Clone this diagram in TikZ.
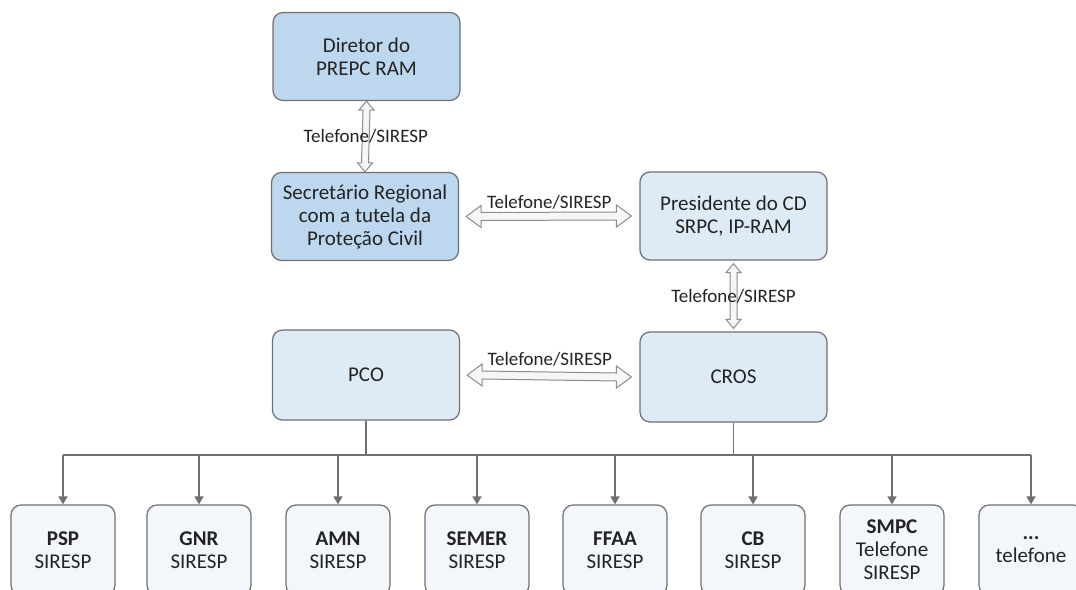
\documentclass[tikz,border=0pt]{standalone}
\usepackage{fontspec}
\setmainfont{Carlito}
\usepackage{xcolor}
\usetikzlibrary{arrows.meta}

\definecolor{boxline}{RGB}{112,112,112}
\definecolor{darkfill}{RGB}{189,215,238}
\definecolor{lightfill}{RGB}{222,235,247}
\definecolor{palefill}{RGB}{243,247,252}
\definecolor{txt}{RGB}{35,35,35}
\definecolor{arrline}{RGB}{140,140,140}
\definecolor{arrfill}{RGB}{246,246,246}

% hollow double arrow, top node to bottom node
\newcommand{\vtel}[3]{%
  \draw[hollow] ([yshift=-#3pt]#1.south) -- ([shift={(7.5,9+#3*2)}]#1.south)
    -- ([shift={(3.5,9+#3*2)}]#1.south) -- ([shift={(3.5,-9-#3*2)}]#2.north)
    -- ([shift={(7.5,-9-#3*2)}]#2.north) -- ([yshift=#3pt]#2.north)
    -- ([shift={(-7.5,-9-#3*2)}]#2.north) -- ([shift={(-3.5,-9-#3*2)}]#2.north)
    -- ([shift={(-3.5,9+#3*2)}]#1.south) -- ([shift={(-7.5,9+#3*2)}]#1.south) -- cycle;}
% hollow double arrow, left node to right node
\newcommand{\htel}[2]{%
  \draw[hollow] ([xshift=3.5pt]#1.east) -- ([shift={(22,-11)}]#1.east)
    -- ([shift={(22,-4)}]#1.east) -- ([shift={(-23,-4)}]#2.west)
    -- ([shift={(-23,-11)}]#2.west) -- ([xshift=-4pt]#2.west)
    -- ([shift={(-23,11)}]#2.west) -- ([shift={(-23,4)}]#2.west)
    -- ([shift={(22,4)}]#1.east) -- ([shift={(22,11)}]#1.east) -- cycle;}

\begin{document}
\begin{tikzpicture}[x=0.5pt,y=-0.5pt,
    every node/.style={text=txt, font=\fontsize{10.5}{11.5}\selectfont},
    box/.style={draw=boxline, line width=0.6pt, rounded corners=5pt, align=center,
      minimum width=93.5pt, minimum height=44pt},
    unit/.style={draw=boxline, line width=0.6pt, rounded corners=5pt, align=center,
      fill=palefill, minimum width=52pt, minimum height=45pt},
    hollow/.style={draw=arrline, fill=arrfill, line width=0.5pt},
    lbl/.style={inner sep=0pt, font=\fontsize{9.5}{11}\selectfont},
    link/.style={draw=boxline, line width=0.8pt},
    tip/.style={-{Triangle[length=4pt,width=4.5pt]}}]
  \clip (0,0) rectangle (1076,589);
  \useasboundingbox (0,0) rectangle (1076,589);

  \node[box, fill=darkfill] (dir) at (366.5,56.5)
    {\fontsize{10.5}{12.5}\selectfont Diretor do\\PREPC RAM};
  \node[box, fill=darkfill] (sec) at (365,216.5)
    {\fontsize{10.5}{12.5}\selectfont Secretário Regional\\com a tutela da\\Proteção Civil};
  \node[box, fill=lightfill] (pres) at (733.5,216)
    {\fontsize{10.5}{12.5}\selectfont Presidente do CD\\SRPC, IP-RAM};
  \node[box, fill=lightfill, minimum height=45pt] (pco) at (366,375) {PCO};
  \node[box, fill=lightfill, minimum height=45pt] (cros) at (733.5,377) {CROS};

  \node[unit] (psp) at (63,550) {\textbf{PSP}\\SIRESP};
  \node[unit] (gnr) at (199,550) {\textbf{GNR}\\SIRESP};
  \node[unit] (amn) at (338,550) {\textbf{AMN}\\SIRESP};
  \node[unit] (semer) at (477,550) {\textbf{SEMER}\\SIRESP};
  \node[unit] (ffaa) at (615,550) {\textbf{FFAA}\\SIRESP};
  \node[unit] (cb) at (753,550) {\textbf{CB}\\SIRESP};
  \node[unit] (smpc) at (892,550) {\textbf{SMPC}\\Telefone\\SIRESP};
  \node[unit] (more) at (1031,550) {\textbf{...}\\telefone};

  % telefone / siresp links
  \vtel{dir}{sec}{0}
  \vtel{pres}{cros}{1.5}
  \htel{sec}{pres}
  \htel{pco}{cros}
  \path (dir.south) -- node[lbl] (t1) {Telefone/SIRESP} (sec.north);
  \path (pres.south) -- node[lbl] (t2) {Telefone/SIRESP} (cros.north);
  \path (sec.east) -- node[lbl, yshift=7pt] (t3) {Telefone/SIRESP} (pres.west);
  \path (pco.east) -- node[lbl, yshift=8.5pt] (t4) {Telefone/SIRESP} (cros.west);

  % distribution bus
  \coordinate (bus) at (0,455);
  \draw[link] (pco.south) -- (pco.south |- bus);
  \draw[link] (cros.south) -- (cros.south |- bus);
  \draw[link] (psp.north |- bus) -- (more.north |- bus);
  \foreach \u in {psp,gnr,amn,semer,ffaa,cb,smpc,more}
    \draw[link, tip] (\u.north |- bus) -- (\u.north);
\end{tikzpicture}
\end{document}
